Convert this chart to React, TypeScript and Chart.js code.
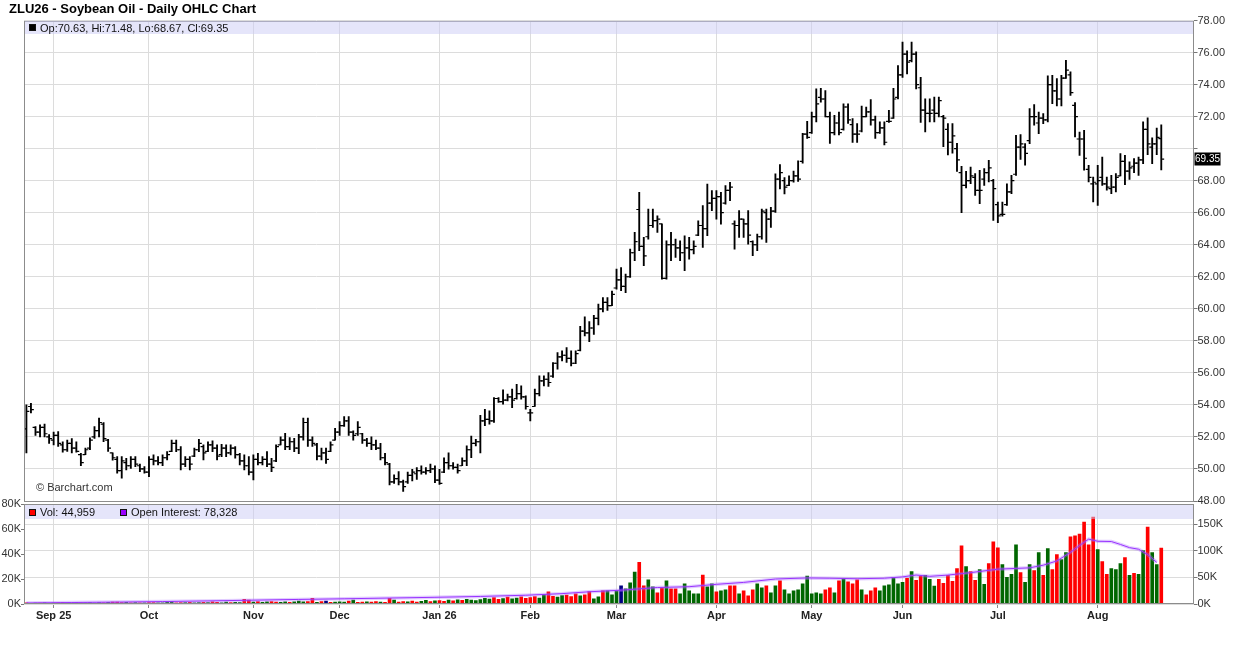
import { useEffect, useRef } from "react";
import { Chart, registerables } from "chart.js";

Chart.register(...registerables);

const FONT = "'Liberation Sans', Arial, Helvetica, sans-serif";

// one bar per trading day, 22 Aug 2025 .. 21 Aug 2026
const opens = [
  52.5, 53.9, 52.6, 52.3, 52.6, 52.0, 51.8, 52.1, 51.5, 51.2,
  51.6, 51.3, 50.9, 50.9, 51.3, 52.0, 52.4, 52.8, 51.8, 51.0,
  50.6, 49.9, 50.4, 50.2, 50.6, 50.2, 50.0, 49.8, 50.6, 50.5,
  50.4, 50.7, 51.1, 51.6, 51.2, 50.3, 50.6, 50.8, 51.2, 51.4,
  51.1, 51.5, 51.3, 50.9, 51.3, 51.0, 51.3, 50.9, 50.5, 50.2,
  49.8, 50.6, 50.4, 50.6, 50.3, 50.5, 51.5, 51.8, 51.4, 51.7,
  51.3, 52.0, 52.9, 51.8, 51.5, 50.8, 51.0, 51.1, 51.8, 52.3,
  52.7, 53.0, 52.3, 52.2, 52.2, 51.8, 51.6, 51.5, 51.3, 50.7,
  50.3, 49.2, 49.4, 49.2, 49.2, 49.6, 49.7, 49.9, 49.8, 49.9,
  50.0, 49.3, 49.8, 50.4, 50.2, 50.1, 50.2, 50.5, 51.2, 51.6,
  51.7, 53.0, 53.1, 53.0, 54.4, 54.2, 54.3, 54.5, 54.4, 54.7,
  54.5, 53.5, 53.9, 54.7, 55.5, 55.6, 55.8, 56.6, 57.0, 57.1,
  56.9, 56.6, 57.4, 58.6, 58.5, 58.8, 59.4, 60.0, 60.4, 60.2,
  61.3, 61.8, 61.4, 62.0, 63.5, 66.2, 63.9, 64.5, 65.2, 65.5,
  65.3, 61.9, 64.0, 64.0, 63.8, 63.5, 63.8, 63.7, 64.6, 65.2,
  65.0, 66.6, 66.9, 67.0, 66.6, 67.4, 65.3, 65.2, 65.6, 65.3,
  64.2, 64.0, 64.5, 66.0, 65.6, 66.1, 68.1, 68.0, 67.7, 68.0,
  68.3, 69.2, 70.9, 71.0, 72.0, 73.2, 73.1, 72.0, 71.0, 71.6,
  71.2, 72.6, 71.5, 70.9, 71.1, 72.0, 72.3, 71.8, 71.0, 71.3,
  71.7, 71.9, 73.2, 74.6, 75.9, 75.5, 75.9, 73.8, 72.4, 72.2,
  72.4, 72.2, 72.0, 71.2, 70.4, 70.0, 68.5, 67.7, 68.0, 68.2,
  67.4, 68.1, 68.5, 68.0, 66.5, 65.9, 66.5, 67.3, 68.4, 70.1,
  70.1, 70.5, 72.0, 71.6, 71.9, 71.8, 74.0, 73.6, 73.1, 74.4,
  74.6, 72.7, 70.6, 70.6, 68.7, 67.8, 67.8, 68.2, 67.8, 67.5,
  67.6, 68.3, 69.2, 68.6, 68.9, 69.1, 69.3, 71.2, 70.1, 70.3,
  70.63,
];

const highs = [
  54.0, 54.1, 52.65, 52.75, 52.8, 52.15, 52.3, 52.33, 51.7, 51.8,
  51.9, 51.7, 50.98, 51.3, 51.95, 52.65, 53.17, 52.9, 51.85, 51.0,
  50.77, 50.77, 50.67, 50.77, 50.77, 50.3, 50.15, 50.77, 50.88, 50.77,
  50.88, 51.08, 51.8, 51.8, 51.4, 50.77, 50.77, 51.3, 51.85, 51.5,
  51.7, 51.75, 51.5, 51.54, 51.5, 51.5, 51.4, 50.98, 50.88, 50.77,
  50.88, 50.98, 50.77, 51.08, 50.67, 51.5, 52.0, 52.23, 51.96, 51.92,
  52.17, 53.17, 53.17, 52.0, 51.6, 51.3, 51.3, 51.7, 52.54, 52.96,
  53.27, 53.27, 52.38, 52.96, 52.23, 51.92, 52.0, 51.8, 51.6, 50.98,
  50.35, 49.63, 49.83, 49.31, 49.8, 49.98, 50.08, 50.2, 50.08, 50.3,
  50.2, 49.98, 50.7, 51.0, 50.4, 50.3, 50.7, 51.44, 52.06, 51.85,
  53.35, 53.73, 53.63, 54.46, 54.46, 54.94, 54.67, 54.98, 55.29, 55.19,
  54.56, 53.73, 54.98, 55.81, 55.81, 56.02, 56.65, 57.27, 57.37, 57.58,
  57.37, 57.37, 58.9, 59.5, 59.2, 59.6, 60.3, 60.7, 60.7, 61.1,
  62.48, 62.58, 62.17, 63.73, 64.77, 67.27, 64.46, 66.23, 66.23, 65.81,
  65.3, 64.25, 64.77, 64.35, 64.25, 64.56, 64.46, 64.25, 65.5, 66.44,
  67.79, 67.38, 67.38, 67.27, 67.69, 67.9, 65.5, 66.13, 65.6, 66.13,
  64.25, 64.67, 66.23, 66.23, 66.33, 68.42, 69.0, 68.2, 68.3, 68.6,
  69.24, 70.95, 71.71, 72.29, 73.73, 73.77, 73.63, 72.29, 72.08, 72.29,
  72.8, 72.8, 71.88, 71.57, 72.66, 72.6, 73.07, 72.04, 71.67, 71.67,
  72.39, 73.77, 75.18, 76.66, 76.1, 76.66, 76.04, 74.45, 73.11, 73.11,
  73.22, 73.22, 72.08, 71.57, 71.57, 70.33, 68.89, 68.58, 68.85, 68.44,
  68.65, 68.75, 69.27, 68.08, 66.67, 66.67, 67.81, 68.33, 70.83, 70.88,
  70.31, 72.5, 72.75, 72.29, 72.19, 74.54, 74.58, 74.38, 74.58, 75.52,
  74.79, 72.88, 71.04, 71.15, 68.96, 68.23, 68.96, 69.48, 68.23, 68.33,
  68.44, 69.69, 69.58, 69.17, 69.38, 69.48, 71.67, 71.92, 70.67, 71.29,
  71.48,
];

const lows = [
  51.0, 53.5, 52.1, 52.0, 52.0, 51.6, 51.5, 51.4, 51.05, 51.1,
  51.0, 51.05, 50.2, 50.9, 51.2, 51.9, 52.0, 51.7, 51.1, 50.55,
  49.73, 49.42, 49.94, 50.04, 50.15, 49.83, 49.73, 49.52, 50.25, 50.25,
  50.2, 50.56, 51.08, 51.08, 49.94, 50.15, 49.94, 50.77, 51.08, 50.56,
  51.08, 51.08, 50.56, 50.77, 50.77, 50.88, 50.67, 50.25, 49.94, 49.63,
  49.31, 50.25, 50.25, 50.15, 49.83, 50.46, 51.5, 51.2, 51.2, 51.08,
  50.96, 51.8, 51.4, 51.4, 50.56, 50.56, 50.35, 51.08, 51.8, 52.1,
  52.65, 52.1, 51.8, 52.1, 51.6, 51.4, 51.2, 51.2, 50.56, 50.25,
  49.0, 49.1, 49.0, 48.6, 49.1, 49.25, 49.35, 49.67, 49.67, 49.77,
  49.15, 49.04, 49.77, 49.98, 49.98, 49.73, 50.2, 50.2, 50.7, 51.44,
  51.0, 52.7, 52.8, 52.9, 54.15, 54.04, 54.25, 53.83, 54.35, 54.35,
  53.73, 53.0, 53.9, 54.56, 55.19, 55.15, 55.71, 56.23, 56.75, 56.65,
  56.44, 56.58, 57.37, 58.3, 57.94, 58.4, 59.0, 59.8, 59.9, 60.2,
  61.23, 61.13, 61.0, 61.96, 63.0, 63.63, 62.69, 64.35, 65.08, 64.77,
  61.85, 61.85, 63.0, 63.21, 63.0, 62.38, 63.1, 63.42, 64.56, 63.83,
  64.56, 66.13, 65.6, 65.29, 66.54, 66.75, 63.73, 64.46, 64.46, 64.04,
  63.31, 63.63, 64.35, 64.15, 65.08, 66.02, 67.48, 67.17, 67.69, 67.9,
  67.96, 69.1, 70.64, 70.95, 71.67, 72.9, 71.98, 70.33, 70.85, 70.85,
  71.15, 71.57, 70.39, 70.39, 71.05, 71.98, 71.46, 70.64, 70.95, 70.23,
  71.63, 71.88, 73.11, 74.45, 74.66, 75.42, 73.73, 71.63, 71.05, 71.67,
  71.67, 71.98, 70.12, 69.6, 69.71, 68.58, 66.0, 67.55, 67.81, 67.08,
  66.56, 67.71, 67.92, 65.52, 65.38, 65.79, 66.46, 67.19, 68.33, 69.33,
  68.96, 70.31, 71.46, 70.94, 71.56, 71.67, 72.81, 72.67, 72.67, 74.38,
  73.33, 70.73, 69.58, 68.65, 67.92, 66.67, 66.46, 67.71, 67.4, 67.19,
  67.29, 68.29, 67.75, 68.08, 68.5, 68.33, 69.06, 69.63, 69.06, 69.63,
  68.67,
];

const closes = [
  53.6, 53.7, 52.3, 52.6, 52.2, 51.9, 52.1, 51.6, 51.2, 51.6,
  51.3, 51.1, 50.4, 51.2, 51.8, 52.4, 52.9, 51.9, 51.3, 50.7,
  49.9, 50.5, 50.2, 50.6, 50.3, 50.0, 49.8, 50.6, 50.5, 50.4,
  50.7, 50.9, 51.6, 51.2, 50.3, 50.6, 50.3, 51.2, 51.6, 51.0,
  51.5, 51.3, 50.8, 51.3, 51.0, 51.3, 50.9, 50.5, 50.2, 49.8,
  50.6, 50.4, 50.6, 50.3, 50.1, 51.4, 51.8, 51.4, 51.7, 51.3,
  52.0, 52.9, 51.8, 51.6, 50.8, 51.0, 50.6, 51.5, 52.3, 52.7,
  53.0, 52.3, 52.1, 52.6, 51.8, 51.6, 51.5, 51.3, 50.7, 50.4,
  49.2, 49.4, 49.2, 48.9, 49.6, 49.8, 49.9, 49.8, 49.9, 50.0,
  49.3, 49.1, 50.4, 50.2, 50.1, 49.9, 50.5, 51.2, 51.6, 51.7,
  53.0, 53.1, 53.0, 54.4, 54.2, 54.3, 54.5, 54.3, 54.7, 54.5,
  53.9, 53.5, 54.7, 55.5, 55.6, 55.4, 56.6, 57.0, 57.1, 56.9,
  56.6, 57.2, 58.6, 58.5, 58.8, 59.4, 60.0, 60.4, 60.2, 60.9,
  61.8, 61.4, 62.0, 63.5, 64.2, 63.9, 63.3, 65.2, 65.5, 65.6,
  61.9, 64.0, 64.0, 63.8, 63.5, 63.8, 63.7, 63.9, 65.2, 65.0,
  66.6, 66.9, 67.0, 66.0, 67.4, 67.6, 65.2, 65.6, 65.3, 64.6,
  64.0, 64.5, 66.1, 65.6, 66.1, 68.1, 68.5, 67.6, 68.0, 68.3,
  68.1, 70.9, 70.7, 72.0, 72.8, 73.1, 72.0, 71.0, 71.6, 71.0,
  72.6, 71.8, 70.9, 70.9, 72.0, 72.3, 71.8, 71.0, 71.3, 70.4,
  71.7, 73.1, 74.6, 75.9, 75.4, 75.9, 74.0, 72.4, 72.2, 72.2,
  72.2, 73.0, 71.9, 70.4, 70.8, 69.3, 67.7, 68.0, 68.3, 67.4,
  67.4, 68.5, 68.8, 67.5, 65.8, 65.9, 67.3, 68.0, 70.1, 70.3,
  69.7, 72.0, 72.0, 71.9, 71.8, 74.0, 73.6, 73.1, 74.4, 74.9,
  73.5, 72.0, 70.6, 69.4, 68.2, 67.9, 68.0, 67.8, 67.6, 67.6,
  68.2, 69.2, 68.6, 68.8, 69.1, 69.3, 71.2, 70.3, 70.3, 70.7,
  69.35,
];

// daily volume, thousands of contracts
const volumesK = [
  0.9, 0.6, 0.7, 0.8, 1.0, 0.6, 0.8, 0.9, 1.2, 0.7,
  0.8, 1.3, 1.0, 0.9, 1.1, 0.8, 1.2, 1.0, 1.4, 1.6,
  1.6, 1.2, 1.3, 1.0, 1.1, 0.9, 1.0, 1.2, 1.1, 0.9,
  1.0, 1.3, 2.1, 1.0, 1.2, 1.1, 1.3, 1.0, 1.2, 1.4,
  1.1, 1.7, 1.3, 1.0, 1.5, 1.2, 1.4, 1.2, 3.7, 3.2,
  1.6, 1.9, 1.3, 1.7, 2.0, 1.5, 1.4, 1.7, 1.4, 1.8,
  2.3, 1.8, 2.0, 4.5, 1.3, 1.9, 2.4, 1.4, 1.6, 1.8,
  1.5, 2.4, 3.2, 1.4, 1.6, 1.8, 1.5, 1.9, 1.6, 1.3,
  4.5, 3.2, 1.5, 2.0, 1.8, 2.4, 1.6, 2.2, 2.9, 2.0,
  2.5, 2.7, 2.2, 3.1, 2.6, 3.4, 2.9, 3.8, 3.2, 2.7,
  3.6, 4.5, 4.0, 5.2, 3.8, 4.4, 5.5, 4.1, 4.8, 5.8,
  4.6, 5.2, 6.0, 4.8, 7.5, 9.8, 6.2, 5.5, 6.8, 7.2,
  5.9, 8.1, 6.5, 7.4, 10.0, 4.2, 5.8, 10.6, 10.6, 7.4,
  10.6, 14.5, 12.1, 16.9, 25.6, 33.5, 14.5, 19.3, 13.7, 9.0,
  12.9, 18.5, 12.1, 12.1, 8.2, 16.1, 10.6, 8.2, 8.2, 23.2,
  13.7, 16.1, 9.8, 10.6, 11.4, 14.5, 14.5, 8.2, 10.6, 6.6,
  11.4, 16.1, 12.9, 14.5, 9.0, 14.5, 18.5, 11.4, 8.2, 10.6,
  11.4, 16.1, 22.4, 8.2, 9.0, 8.2, 11.4, 12.9, 9.0, 18.5,
  20.1, 17.7, 16.1, 19.3, 11.4, 7.4, 10.6, 12.9, 10.6, 14.5,
  15.3, 20.9, 16.1, 17.4, 20.6, 26.1, 19.0, 22.2, 23.0, 19.8,
  14.3, 19.8, 16.6, 23.0, 18.2, 28.5, 46.7, 30.1, 26.1, 19.0,
  27.7, 15.8, 32.5, 49.9, 45.1, 31.7, 21.4, 23.8, 47.5, 25.3,
  17.4, 31.7, 26.9, 41.2, 23.0, 44.4, 27.7, 39.6, 35.6, 41.2,
  53.9, 54.6, 56.2, 65.7, 47.5, 69.7, 43.6, 34.0, 23.8, 28.5,
  27.7, 32.5, 37.2, 23.0, 24.6, 23.8, 42.8, 61.8, 41.2, 31.7,
  44.959,
];

// u = up day, d = down day, n = unchanged
const volumeDirection = (
  "ddudududdu" + "duduuuudud" + "ddudududdu" + "uuudduduud" +
  "udduuduudd" + "uduudduudu" + "uuddudnduu" + "ududduddud" +
  "duddudduud" + "uddududuuu" + "uuudduduud" + "ddduudduud" +
  "ddud" +
  "duuduuunuu" + "udduuddudd" + "uuuuuduudu" + "udduddduud" +
  "uuduuuuuuu" + "uuddududdd" + "uddduuuuuu" + "dudduuuddd" +
  "dddudduudd" + "duuuuduudu" + "dudduudddd" + "ddudduuudu" +
  "duuduud"
).split("");

// open interest, thousands, read at roughly weekly bars: [bar index, value]
const openInterestK: [number, number][] = [
  [0, 2.0], [10, 2.8], [20, 3.6], [30, 4.6], [40, 5.8], [50, 7.2],
  [60, 8.6], [70, 9.8], [80, 11.2], [90, 12.6], [100, 14.2], [110, 16.5],
  [118, 19.5], [124, 23.0], [131, 26.0], [139, 31.0], [146, 32.5], [152, 37.0],
  [158, 40.6], [165, 47.0], [172, 49.0], [177, 48.5], [183, 47.5], [189, 48.5],
  [193, 51.0], [196, 54.5], [199, 52.0], [203, 54.4], [208, 59.0], [214, 65.5],
  [221, 68.0], [224, 73.0], [227, 81.0], [230, 97.0], [232, 110.0], [234, 122.0],
  [236, 118.0], [239, 117.5], [241, 112.0], [243, 106.0], [245, 103.0], [247, 93.0],
  [249, 78.328],
];

// first trading day of each month, as bar index
const monthStarts = [6, 27, 50, 69, 91, 111, 130, 152, 173, 193, 214, 236];
const monthLabels = ["Sep 25", "Oct", "Nov", "Dec", "Jan 26", "Feb", "Mar", "Apr", "May", "Jun", "Jul", "Aug"];

const oiTicks = [0, 50000, 100000, 150000];

const X_MIN = -0.53;
const X_MAX = 257.1;

const last = closes.length - 1;
const lastClose = closes[last];

const framePlugin = {
  id: "frame",
  afterDraw(chart: any) {
    const { ctx, chartArea: a } = chart;
    ctx.save();
    ctx.strokeStyle = "#8c8c8c";
    ctx.lineWidth = 1;
    ctx.strokeRect(Math.round(a.left) + 0.5, Math.round(a.top) + 0.5, Math.round(a.width) - 1, Math.round(a.height) - 1);
    ctx.restore();
  },
};

const lastPricePlugin = {
  id: "lastPrice",
  afterDraw(chart: any) {
    const { ctx, chartArea } = chart;
    const y = chart.scales.y.getPixelForValue(lastClose);
    const text = lastClose.toFixed(2);
    ctx.save();
    ctx.font = `10px ${FONT}`;
    const w = ctx.measureText(text).width + 1;
    ctx.fillStyle = "#000";
    ctx.fillRect(chartArea.right + 1, Math.round(y) - 6.5, w, 13);
    ctx.fillStyle = "#fff";
    ctx.textBaseline = "middle";
    ctx.fillText(text, chartArea.right + 1.5, Math.round(y) + 0.5);
    ctx.restore();
  },
};

const gridColor = "#dcdcdc";
const tickFont = { family: FONT, size: 11 };

const monthTicks = (scale: any) => {
  scale.ticks = monthStarts.map((value) => ({ value }));
};

export default function App() {
  const priceRef = useRef<HTMLCanvasElement>(null);
  const volRef = useRef<HTMLCanvasElement>(null);

  useEffect(() => {
    if (!priceRef.current || !volRef.current) return;

    const price = new Chart(priceRef.current, {
      type: "bar",
      data: {
        datasets: [
          {
            type: "bar",
            data: highs.map((h, i) => ({ x: i, y: [lows[i], h] })) as any,
            backgroundColor: "#000",
            barThickness: 1.2,
            order: 1,
          },
          {
            type: "scatter",
            data: opens.map((o, i) => ({ x: i - 0.33, y: o })),
            showLine: false,
            pointStyle: "line",
            pointRadius: 1.4,
            pointBorderWidth: 1.2,
            pointBorderColor: "#000",
            order: 0,
          },
          {
            type: "scatter",
            data: closes.map((c, i) => ({ x: i + 0.33, y: c })),
            showLine: false,
            pointStyle: "line",
            pointRadius: 1.4,
            pointBorderWidth: 1.2,
            pointBorderColor: "#000",
            order: 0,
          },
        ],
      },
      options: {
        animation: false,
        responsive: true,
        maintainAspectRatio: false,
        events: [],
        layout: { padding: { top: 20.5, bottom: 11, left: 24, right: 0 } },
        plugins: { legend: { display: false }, tooltip: { enabled: false } },
        scales: {
          x: {
            type: "linear",
            min: X_MIN,
            max: X_MAX,
            bounds: "data",
            offset: false,
            afterBuildTicks: monthTicks,
            afterFit: (axis: any) => {
              axis.height = 0;
            },
            ticks: { display: false },
            grid: { color: gridColor, offset: false, drawTicks: false },
            border: { display: false },
          },
          y: {
            type: "linear",
            position: "right",
            min: 48,
            max: 78,
            bounds: "data",
            afterFit: (axis: any) => {
              axis.width = 42.5;
            },
            ticks: {
              stepSize: 2,
              padding: 0,
              color: "#333",
              font: tickFont,
              callback: (v: any) => (Math.abs(Number(v) - lastClose) < 0.9 ? "" : Number(v).toFixed(2)),
            },
            grid: { color: gridColor, tickColor: "#777", tickLength: 4 },
            border: { display: false },
          },
        },
      } as any,
      plugins: [framePlugin, lastPricePlugin],
    });

    const vol = new Chart(volRef.current, {
      type: "bar",
      data: {
        datasets: [
          {
            type: "line",
            data: openInterestK.map(([x, v]) => ({ x, y: v * 1000 })),
            yAxisID: "yo",
            borderColor: "#9a33ff",
            borderWidth: 1,
            pointRadius: 0,
            tension: 0,
            order: 0,
          },
          {
            type: "line",
            data: openInterestK.map(([x, v]) => ({ x, y: v * 1000 })),
            yAxisID: "yo",
            borderColor: "rgba(170, 110, 255, 0.35)",
            borderWidth: 3.5,
            pointRadius: 0,
            tension: 0,
            order: 1,
          },
          {
            type: "bar",
            data: volumesK.map((v, i) => ({ x: i, y: v * 1000 })),
            yAxisID: "yv",
            backgroundColor: volumeDirection.map((d) => (d === "u" ? "#006600" : d === "d" ? "#ff0000" : "#000080")),
            barThickness: 3,
            order: 2,
          },
        ],
      },
      options: {
        animation: false,
        responsive: true,
        maintainAspectRatio: false,
        events: [],
        layout: { padding: { top: 14.3, bottom: 0, left: 0, right: 0 } },
        plugins: { legend: { display: false }, tooltip: { enabled: false } },
        scales: {
          x: {
            type: "linear",
            min: X_MIN,
            max: X_MAX,
            bounds: "data",
            offset: false,
            afterBuildTicks: monthTicks,
            afterFit: (axis: any) => {
              axis.height = 41;
            },
            ticks: {
              autoSkip: false,
              maxRotation: 0,
              padding: 1,
              color: "#222",
              font: { family: FONT, size: 11, weight: "bold" },
              callback: (_v: any, idx: number) => monthLabels[idx],
            },
            grid: { color: gridColor, offset: false, tickColor: "#888", tickLength: 4 },
            border: { display: false },
          },
          yv: {
            type: "linear",
            position: "left",
            min: 0,
            max: 80000,
            bounds: "data",
            afterFit: (axis: any) => {
              axis.width = 24;
            },
            ticks: {
              stepSize: 20000,
              padding: 0,
              color: "#333",
              font: tickFont,
              callback: (v: any) => `${Number(v) / 1000}K`,
            },
            grid: { drawOnChartArea: false, tickColor: "#777", tickLength: 3 },
            border: { display: false },
          },
          yo: {
            type: "linear",
            position: "right",
            min: 0,
            max: 187500,
            bounds: "data",
            afterBuildTicks: (scale: any) => {
              scale.ticks = oiTicks.map((value) => ({ value }));
            },
            afterFit: (axis: any) => {
              axis.width = 42.5;
            },
            ticks: {
              padding: 0,
              color: "#333",
              font: tickFont,
              callback: (v: any) => `${Number(v) / 1000}K`,
            },
            grid: { color: gridColor, tickColor: "#777", tickLength: 4 },
            border: { display: false },
          },
        },
      } as any,
      plugins: [framePlugin],
    });

    return () => {
      price.destroy();
      vol.destroy();
    };
  }, []);

  const band = {
    position: "absolute" as const,
    left: 25,
    width: 1168,
    height: 13,
    background: "rgba(204, 204, 245, 0.5)",
    display: "flex",
    alignItems: "center",
    fontSize: 11,
    color: "#111",
    whiteSpace: "nowrap" as const,
  };
  const square = (color: string) => ({
    display: "inline-block",
    width: 7,
    height: 7,
    boxSizing: "border-box" as const,
    background: color,
    border: "1px solid #111",
  });
  const lastOi = openInterestK[openInterestK.length - 1][1];

  return (
    <div
      style={{
        position: "fixed",
        left: 0,
        top: 0,
        width: 1236,
        height: 645,
        background: "#fff",
        overflow: "hidden",
        fontFamily: FONT,
      }}
    >
      <div style={{ position: "absolute", left: 0, top: 0, width: 1236, height: 512 }}>
        <canvas ref={priceRef} />
      </div>
      <div style={{ position: "absolute", left: 0, top: 490, width: 1236, height: 155 }}>
        <canvas ref={volRef} />
      </div>

      <div
        style={{
          position: "absolute",
          left: 9,
          top: 1,
          fontSize: 13,
          fontWeight: "bold",
          lineHeight: "16px",
          color: "#000",
          whiteSpace: "nowrap",
        }}
      >
        ZLU26 - Soybean Oil - Daily OHLC Chart
      </div>

      <div style={{ ...band, top: 21 }}>
        <span style={{ ...square("#000"), marginLeft: 4 }} />
        <span style={{ marginLeft: 4 }}>
          Op:{opens[last].toFixed(2)}, Hi:{highs[last].toFixed(2)}, Lo:{lows[last].toFixed(2)}, Cl:
          {closes[last].toFixed(2)}
        </span>
      </div>

      <div style={{ ...band, top: 505, height: 14 }}>
        <span style={{ ...square("#ff0000"), marginLeft: 4 }} />
        <span style={{ marginLeft: 4 }}>Vol: {Math.round(volumesK[last] * 1000).toLocaleString("en-US")}</span>
        <span style={{ ...square("#9900ff"), marginLeft: 25 }} />
        <span style={{ marginLeft: 4 }}>Open Interest: {Math.round(lastOi * 1000).toLocaleString("en-US")}</span>
      </div>

      <div
        style={{
          position: "absolute",
          left: 36,
          top: 481,
          fontSize: 11,
          lineHeight: "13px",
          color: "#333",
          whiteSpace: "nowrap",
        }}
      >
        © Barchart.com
      </div>
    </div>
  );
}
